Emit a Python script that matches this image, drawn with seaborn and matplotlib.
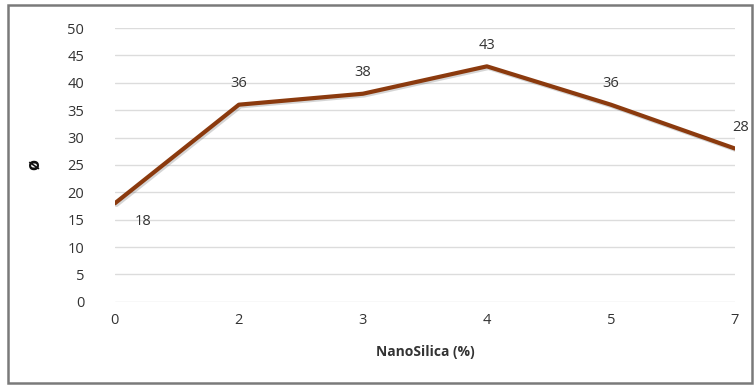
import matplotlib
matplotlib.use("Agg")
import matplotlib.pyplot as plt
import seaborn as sns
import pandas as pd
from matplotlib.patches import Rectangle
import matplotlib.patheffects as pe

categories = ["0", "2", "3", "4", "5", "7"]
phi_values = [18, 36, 38, 43, 36, 28]
y_ticks = [0, 5, 10, 15, 20, 25, 30, 35, 40, 45, 50]

sns.set_theme(style="white")
plt.rcParams["font.family"] = ["Open Sans", "DejaVu Sans"]

df = pd.DataFrame({"NanoSilica": categories, "phi": phi_values})

fig = plt.figure(figsize=(7.56, 3.89), dpi=100)
ax = fig.add_axes([0.152, 0.224, 0.820, 0.704])

for t in y_ticks:
    ax.axhline(t, color="#dcdcdc", lw=1.0, zorder=0)

sns.lineplot(data=df, x="NanoSilica", y="phi", ax=ax, color="#8B3A0E",
             linewidth=3.0, sort=False,
             path_effects=[pe.SimpleLineShadow(offset=(1.2, -1.2), alpha=0.18),
                           pe.Normal()])

text_color = "#333333"
ax.set_xlim(0, len(categories) - 1)
ax.set_ylim(0, 50)
ax.set_yticks(y_ticks)
ax.set_xticks(range(len(categories)))
ax.set_xticklabels(categories)
ax.tick_params(axis="both", length=0, labelsize=10.5, labelcolor=text_color)
ax.tick_params(axis="y", pad=22)
ax.tick_params(axis="x", pad=8)
for s in ax.spines.values():
    s.set_visible(False)

ax.set_xlabel("NanoSilica (%)", fontsize=10, fontweight="bold", color=text_color, labelpad=12)
ax.set_ylabel("ø", fontsize=13, fontweight="bold", color="#111111", labelpad=18)

offsets = [(20, -13), (0, 15), (0, 15), (0, 15), (0, 15), (4, 15)]
for i, (v, off) in enumerate(zip(phi_values, offsets)):
    ax.annotate(str(v), (i, v), xytext=off, textcoords="offset points",
                ha="center", va="center", fontsize=10.5, color=text_color,
                annotation_clip=False)

fig.patches.append(Rectangle((8 / 756, 6 / 389), 744 / 756, 378 / 389,
                             transform=fig.transFigure, fill=False,
                             edgecolor="#7a7a7a", linewidth=1.8))

fig.savefig("out.png", dpi=100)
